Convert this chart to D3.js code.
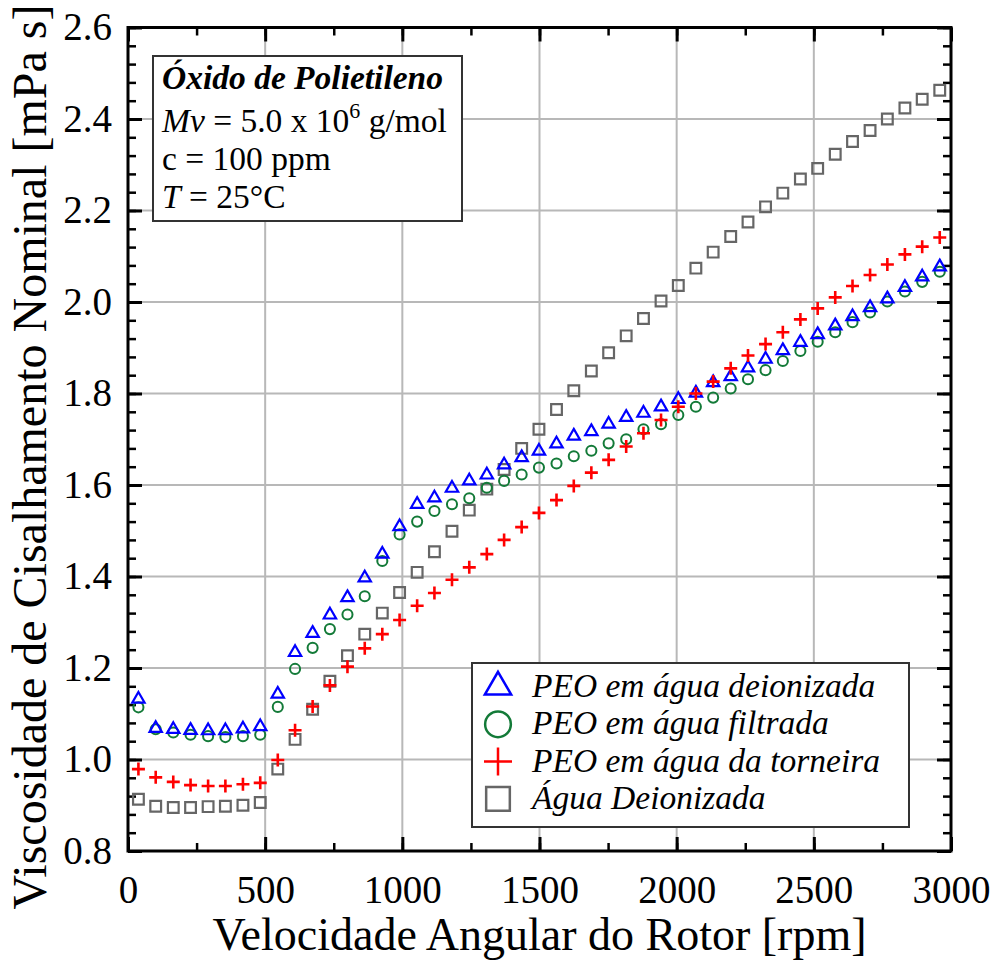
<!DOCTYPE html>
<html><head><meta charset="utf-8">
<script src="https://cdn.jsdelivr.net/npm/d3@7"></script>
<style>body{margin:0;background:#fff}svg{display:block}</style>
</head><body><svg id="c" width="997" height="960"></svg>
<script>
// ---- data ----
const rpm = [38,101,165,228,292,355,419,482,546,609,673,736,800,863,927,990,1054,1117,1181,1244,1308,1371,1435,1498,1562,1625,1689,1752,1816,1879,1943,2006,2070,2133,2197,2260,2324,2387,2451,2514,2578,2641,2705,2768,2832,2895,2959];
const peoDeion = [1.132,1.068,1.066,1.064,1.063,1.063,1.067,1.072,1.143,1.234,1.276,1.316,1.354,1.397,1.449,1.509,1.558,1.572,1.593,1.609,1.622,1.644,1.660,1.674,1.690,1.707,1.717,1.733,1.748,1.757,1.771,1.787,1.801,1.824,1.837,1.856,1.875,1.894,1.912,1.929,1.948,1.968,1.988,2.007,2.032,2.055,2.077];
const peoFiltr = [1.114,1.066,1.059,1.054,1.051,1.049,1.051,1.054,1.115,1.198,1.244,1.285,1.317,1.357,1.434,1.492,1.520,1.543,1.558,1.571,1.594,1.609,1.623,1.638,1.647,1.663,1.675,1.691,1.700,1.722,1.733,1.753,1.771,1.791,1.811,1.831,1.851,1.871,1.893,1.913,1.934,1.956,1.977,2.001,2.023,2.044,2.066];
const peoTorn = [0.979,0.961,0.951,0.944,0.942,0.942,0.946,0.949,0.999,1.064,1.116,1.162,1.203,1.243,1.274,1.305,1.336,1.364,1.393,1.420,1.449,1.480,1.508,1.539,1.567,1.598,1.627,1.655,1.684,1.713,1.742,1.771,1.800,1.826,1.855,1.883,1.908,1.934,1.962,1.986,2.010,2.035,2.059,2.082,2.104,2.121,2.141];
const aguaDeion = [0.913,0.898,0.895,0.895,0.897,0.898,0.900,0.906,0.979,1.044,1.110,1.171,1.227,1.274,1.320,1.365,1.409,1.454,1.499,1.545,1.591,1.634,1.680,1.722,1.765,1.806,1.849,1.889,1.926,1.964,2.002,2.036,2.074,2.109,2.143,2.175,2.208,2.238,2.269,2.292,2.323,2.351,2.375,2.400,2.424,2.443,2.463];
const xTicks = [0,500,1000,1500,2000,2500,3000];
const yTicks = [0.8,1.0,1.2,1.4,1.6,1.8,2.0,2.2,2.4,2.6];
const seriesNames = ["PEO em água deionizada","PEO em água filtrada","PEO em água da torneira","Água Deionizada"];

const svg = d3.select("#c");
const L=128, R=951, T=27.5, B=851;
const x = d3.scaleLinear().domain([0,3000]).range([L,R]);
const y = d3.scaleLinear().domain([0.8,2.6]).range([B,T]);
const font = "'Liberation Serif','Times New Roman',serif";

// grid
const g = svg.append("g");
g.selectAll(".gx").data(xTicks.slice(1,-1)).join("line")
  .attr("x1",d=>x(d)).attr("x2",d=>x(d)).attr("y1",T).attr("y2",B)
  .attr("stroke","#b8b8b8").attr("stroke-width",2);
g.selectAll(".gy").data(yTicks.slice(1,-1)).join("line")
  .attr("y1",d=>y(d)).attr("y2",d=>y(d)).attr("x1",L).attr("x2",R)
  .attr("stroke","#b8b8b8").attr("stroke-width",2);

function styleAxis(sel){
  sel.select(".domain").remove();
  sel.selectAll(".tick line").attr("stroke","#000").attr("stroke-width",3);
  sel.selectAll("text").attr("font-family",font).attr("font-size",39).attr("fill","#000");
}
const xMinor = d3.range(0,3001,250);
const yMinor = d3.range(0,46).map(i=>+(0.8+i*0.04).toFixed(2));
function minor(axisFn, scale, vals, tx, ty){
  const a = svg.append("g").attr("transform",`translate(${tx},${ty})`)
    .call(axisFn(scale).tickValues(vals).tickSize(-8).tickFormat(""));
  a.select(".domain").remove();
  a.selectAll(".tick line").attr("stroke","#000").attr("stroke-width",2.5);
}
minor(d3.axisBottom,x,xMinor,0,B);
minor(d3.axisTop,x,xMinor,0,T);
minor(d3.axisLeft,y,yMinor,L,0);
minor(d3.axisRight,y,yMinor,R,0);

const ax = svg.append("g").attr("transform",`translate(0,${B})`)
  .call(d3.axisBottom(x).tickValues(xTicks).tickSize(-14).tickPadding(24).tickFormat(d3.format("d")));
styleAxis(ax);
ax.selectAll("text").attr("dy","0.71em");
const axT = svg.append("g").attr("transform",`translate(0,${T})`)
  .call(d3.axisTop(x).tickValues(xTicks).tickSize(-14).tickFormat(""));
styleAxis(axT);
const ay = svg.append("g").attr("transform",`translate(${L},0)`)
  .call(d3.axisLeft(y).tickValues(yTicks).tickSize(-14).tickPadding(16).tickFormat(d3.format(".1f")));
styleAxis(ay);
const ayR = svg.append("g").attr("transform",`translate(${R},0)`)
  .call(d3.axisRight(y).tickValues(yTicks).tickSize(-14).tickFormat(""));
styleAxis(ayR);

// frame
svg.append("rect").attr("x",L).attr("y",T).attr("width",R-L).attr("height",B-T)
  .attr("fill","none").attr("stroke","#000").attr("stroke-width",3);

// axis titles
svg.append("text").attr("x",(L+R)/2).attr("y",950).attr("text-anchor","middle")
  .attr("font-family",font).attr("font-size",46).text("Velocidade Angular do Rotor [rpm]");
svg.append("text").attr("transform","translate(46,457) rotate(-90)").attr("text-anchor","middle")
  .attr("font-family",font).attr("font-size",48).text("Viscosidade de Cisalhamento Nominal [mPa s]");

// markers
const plusPath = s => `M${-s},0H${s}M0,${-s}V${s}`;
const markers = [
  {vals:peoDeion, color:"#0000ff", sym:d3.symbol().type(d3.symbolTriangle).size(66)(), sw:2.2, big:d3.symbol().type(d3.symbolTriangle).size(300)()},
  {vals:peoFiltr, color:"#137a38", sym:d3.symbol().type(d3.symbolCircle).size(80)(), sw:2, big:d3.symbol().type(d3.symbolCircle).size(520)()},
  {vals:peoTorn, color:"#ff0000", sym:plusPath(6.5), sw:2.6, big:plusPath(14)},
  {vals:aguaDeion, color:"#666666", sym:d3.symbol().type(d3.symbolSquare).size(115)(), sw:2.2, big:d3.symbol().type(d3.symbolSquare).size(560)()}
];
const order=[3,1,0,2];
order.forEach(k=>{
  const m=markers[k];
  svg.append("g").selectAll("path").data(rpm.map((r,i)=>[r,m.vals[i]])).join("path")
    .attr("transform",d=>`translate(${x(d[0])},${y(d[1])})`)
    .attr("d",m.sym).attr("fill","none").attr("stroke",m.color).attr("stroke-width",m.sw);
});

// info box
svg.append("rect").attr("x",153).attr("y",56).attr("width",309).attr("height",165)
  .attr("fill","#fff").attr("stroke","#333").attr("stroke-width",2);
const info = svg.append("g").attr("font-family",font).attr("font-size",33.5);
info.append("text").attr("x",162).attr("y",89).attr("font-weight","bold").attr("font-style","italic").text("Óxido de Polietileno");
const t2 = info.append("text").attr("x",162).attr("y",132);
t2.append("tspan").attr("font-style","italic").text("Mv");
t2.append("tspan").text(" = 5.0 x 10");
t2.append("tspan").attr("font-size",22).attr("dy",-14).text("6");
t2.append("tspan").attr("dy",14).text(" g/mol");
info.append("text").attr("x",162).attr("y",170).text("c = 100 ppm");
const t4 = info.append("text").attr("x",162).attr("y",208);
t4.append("tspan").attr("font-style","italic").text("T");
t4.append("tspan").text(" = 25°C");

// legend
svg.append("rect").attr("x",472).attr("y",663).attr("width",437).attr("height",164)
  .attr("fill","#fff").attr("stroke","#333").attr("stroke-width",2);
const legRows = [0,1,2,3];
const lg = svg.append("g");
legRows.forEach(k=>{
  const yy = 687 + k*37.3;
  const m = markers[k];
  lg.append("path").attr("transform",`translate(498,${yy})`).attr("d",m.big)
    .attr("fill","none").attr("stroke",m.color).attr("stroke-width",2.5);
  lg.append("text").attr("x",532).attr("y",yy+10).attr("font-family",font).attr("font-size",33.5)
    .attr("font-style","italic").text(seriesNames[k]);
});
</script></body></html>
